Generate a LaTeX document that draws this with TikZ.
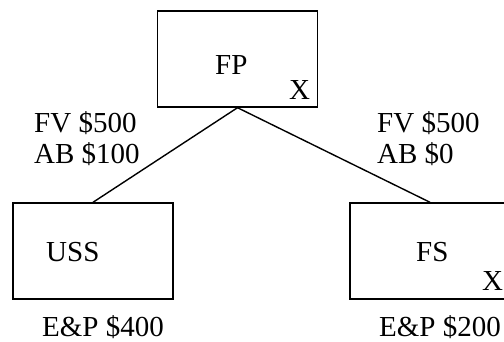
\documentclass[tikz,border=0pt]{standalone}
\usepackage{fontspec}
\setmainfont{Liberation Serif}
\begin{document}
\begin{tikzpicture}[x=1pt,y=1pt,
  entity/.style={draw=black,line width=1.4pt,minimum width=160pt,minimum height=96pt,inner sep=0pt},
  lbl/.style={anchor=base west,inner sep=0pt,font=\fontsize{29}{33}\selectfont},
  link/.style={draw=black,line width=1.4pt}]
\useasboundingbox (0,0) rectangle (504,341);
\clip (0,0) rectangle (504,341);
% ownership boxes
\node[entity] (fp) at (237.5,282) {};
\node[entity] (uss) at (93,90) {};
\node[entity] (fs) at (430,90) {};
% box texts
\node[lbl] (fpt) at (215,266) {FP};
\node[lbl] (fpx) at (289,242) {X};
\node[lbl] (usst) at (46,80) {USS};
\node[lbl] (fst) at (416,80) {FS};
\node[lbl] (fsx) at (482,51) {X};
% ownership links
\draw[link] (fp.south) -- (uss.north);
\draw[link] (fp.south) -- (fs.north);
% stock values and bases
\node[lbl] (fv1) at (34,209) {FV \$500};
\node[lbl] (ab1) at (34,178) {AB \$100};
\node[lbl] (fv2) at (377,209) {FV \$500};
\node[lbl] (ab2) at (377,178) {AB \$0};
% earnings and profits
\node[lbl] (ep1) at (42,5) {E\&P \$400};
\node[lbl] (ep2) at (379,5) {E\&P \$200};
\end{tikzpicture}
\end{document}
